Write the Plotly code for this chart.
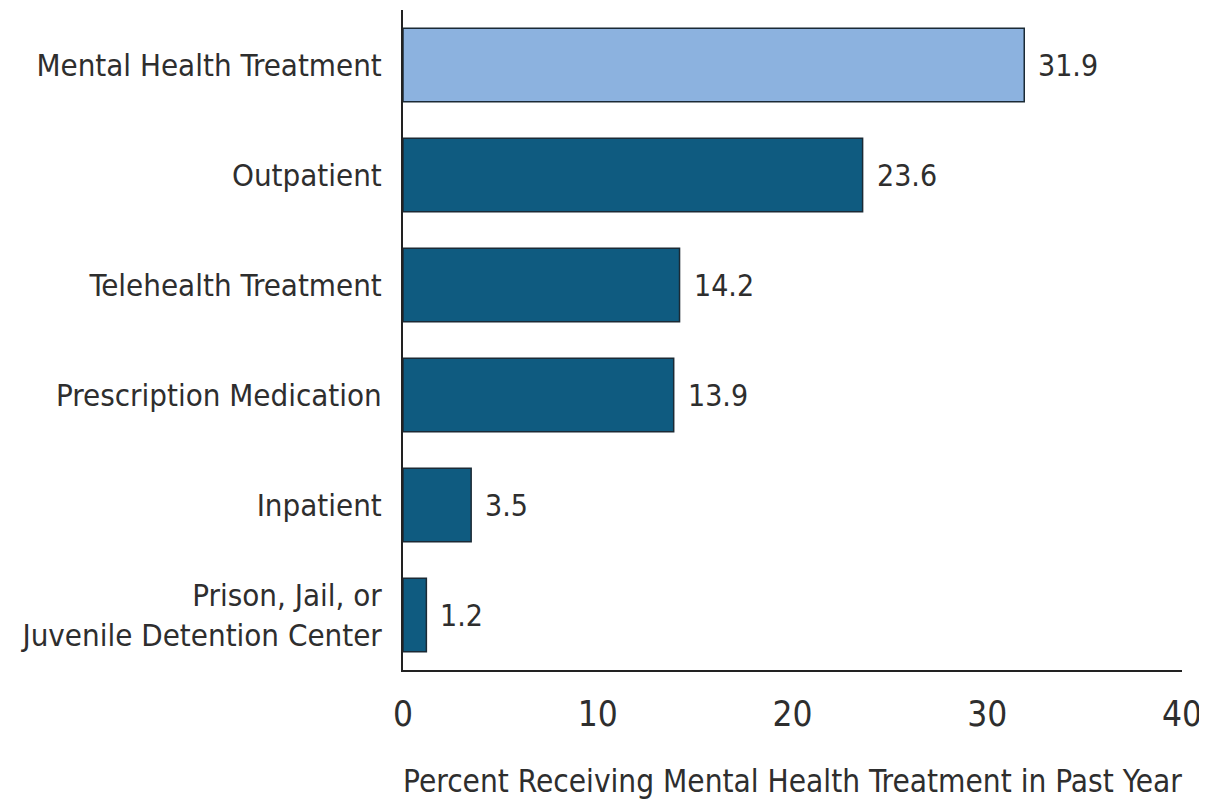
import plotly.graph_objects as go

categories = [
    "Mental Health Treatment",
    "Outpatient",
    "Telehealth Treatment",
    "Prescription Medication",
    "Inpatient",
    "Prison, Jail, or<br>Juvenile Detention Center",
]
values = [31.9, 23.6, 14.2, 13.9, 3.5, 1.2]
value_labels = ["31.9", "23.6", "14.2", "13.9", "3.5", "1.2"]
x_ticks = [0, 10, 20, 30, 40]
x_title = "Percent Receiving Mental Health Treatment in Past Year"

colors = ["#8CB2DF"] + ["#0F5B80"] * 5

FONT = "DejaVu Sans Condensed, Liberation Sans Narrow, Liberation Sans, sans-serif"
TXT = "#2E2E2E"

fig = go.Figure()
fig.add_trace(go.Bar(
    y=categories,
    x=values,
    orientation="h",
    marker=dict(color=colors, line=dict(color="#1B2A35", width=1.5)),
    hoverinfo="skip",
))

for c, v, t in zip(categories, values, value_labels):
    fig.add_annotation(x=v, y=c, text=t, showarrow=False, xanchor="left",
                       xshift=12, font=dict(family=FONT, size=30, color=TXT))

# page body has an 8px margin, so the figure is drawn 8px smaller
fig.update_layout(
    width=1199, height=791,
    margin=dict(l=395, r=25, t=2, b=129),
    paper_bgcolor="white", plot_bgcolor="white",
    bargap=0.33,
    showlegend=False,
    font=dict(family=FONT, color=TXT),
)
fig.update_xaxes(
    range=[0, 40], tickvals=x_ticks, showgrid=False, zeroline=False,
    showline=True, linecolor="#222222", linewidth=2,
    ticks="", ticklabelstandoff=12, automargin=False,
    tickfont=dict(family=FONT, size=35, color=TXT),
    title=dict(text=x_title, font=dict(family=FONT, size=31.3, color=TXT), standoff=38),
)
fig.update_yaxes(
    autorange="reversed", showgrid=False, zeroline=False,
    showline=True, linecolor="#222222", linewidth=2,
    ticks="", ticklabelstandoff=13, automargin=False,
    tickfont=dict(family=FONT, size=31, color=TXT),
)

fig.write_html("out.html")
